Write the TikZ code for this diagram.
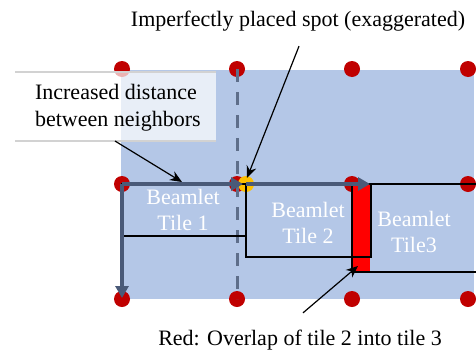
\documentclass[tikz,border=0pt]{standalone}
\usepackage{fontspec}
\setmainfont{Liberation Serif}
\usetikzlibrary{arrows.meta}

\definecolor{gridblue}{HTML}{B4C7E7}
\definecolor{spotred}{HTML}{C00000}
\definecolor{spotyellow}{HTML}{FFC000}
\definecolor{steel}{HTML}{4A5A78}
\definecolor{dashsteel}{HTML}{5E6E8A}

\tikzset{
    spot/.style={fill=spotred},
    tile/.style={draw=black, line width=0.8pt},
    shift arrow/.style={draw=steel, line width=1.6pt, -{Triangle[length=6pt, width=6.5pt]}},
    callout/.style={draw=black, line width=0.6pt, -{Stealth[length=6pt, width=5pt]}},
    tilelabel/.style={text=white, align=center, font=\fontsize{11}{13}\selectfont},
    note/.style={font=\fontsize{11}{13.5}\selectfont},
}

\begin{document}
\begin{tikzpicture}[x=0.5pt, y=-0.5pt]
    \useasboundingbox (0,0) rectangle (476,354);

    % Spot grid background
    \fill[gridblue] (121,70) rectangle (474,299);

    % Ideal spot positions
    \fill[spot] (122,69) circle (8) (237,69) circle (8) (352,69) circle (8) (468,69) circle (8);
    \fill[spot] (122,184) circle (8) (237,184) circle (8) (352,184) circle (8) (468,184) circle (8);
    \fill[spot] (122,299) circle (8) (237,299) circle (8) (352,299) circle (8) (468,299) circle (8);

    % Misplaced spot
    \coordinate (S) at (246,184);
    \fill[spotyellow] (S) circle (8);

    % Ideal column position
    \draw[dashsteel, line width=1.5pt, dash pattern=on 6.5pt off 5pt] (237,69) -- (237,299);

    % Tiles
    \draw[tile] (122,184) rectangle (246,236);
    \fill[red] (352,184) rectangle (370,272);
    \draw[tile] (352,184) rectangle (490,272);
    \draw[tile] (246,184) rectangle (371,257);

    % Tile labels
    \node[tilelabel] (t1) at (183,210) {Beamlet\\Tile 1};
    \node[tilelabel] (t2) at (308,223) {Beamlet\\Tile 2};
    \node[tilelabel] (t3) at (414,232) {Beamlet\\Tile3};

    % Step vectors between neighbours
    \coordinate (O) at (122,184);
    \draw[shift arrow] (O) -- (243,184);
    \draw[shift arrow] (O) -- (122,298);
    \draw[shift arrow] (S) -- (370,184);

    % Note box on the left
    \fill[white, opacity=0.7] (15,72) rectangle (216,141);
    \draw[gray!35, line width=0.6pt] (15,72) -- (216,72) (15,141) -- (216,141);
    \node[note, anchor=west, align=left] (dist) at (28,108) {Increased distance\\between neighbors};

    % Top and bottom notes
    \node[note] (spotnote) at (298,21) {Imperfectly placed spot (exaggerated)};
    \node[note] (overlap) at (300,340) {Red: Overlap of tile 2 into tile 3};

    % Callout arrows
    \coordinate (distend) at (182,182);
    \coordinate (overlapend) at (358,266);
    \draw[callout] (115,141) -- (distend);
    \draw[callout] (spotnote.south) ++(1,8) -- (247,178);
    \draw[callout] (overlap.north) ++(3,-10) -- (overlapend);
\end{tikzpicture}
\end{document}
